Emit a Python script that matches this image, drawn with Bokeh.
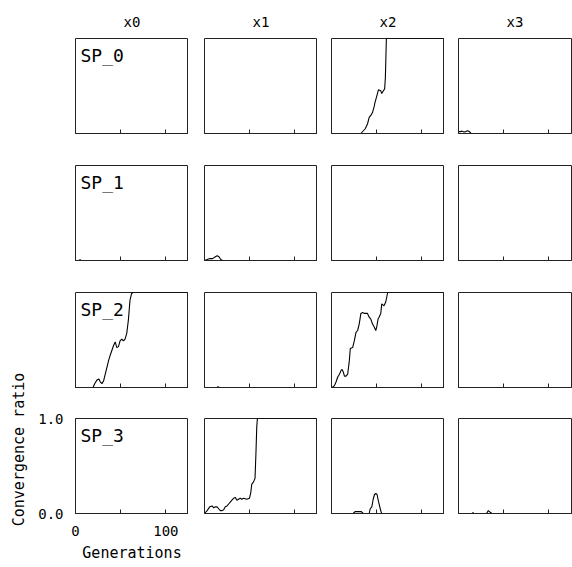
import math
from bokeh.plotting import figure
from bokeh.layouts import gridplot, row
from bokeh.models import Range1d, FixedTicker, Label
from bokeh.embed import file_html
from bokeh.resources import INLINE

# ---------------- data ----------------
col_titles = ["x0", "x1", "x2", "x3"]
row_labels = ["SP_0", "SP_1", "SP_2", "SP_3"]
x_label = "Generations"
y_label = "Convergence ratio"
x_ticks = [0, 50, 100]
x_major_ticks = [0, 100]
x_minor_ticks = [50]
y_ticks = [0, 1]
y_tick_labels = {0: "0.0", 1: "1.0"}
gen_max = 125

# SP_0
sp0_x0_gen = [0, 125]
sp0_x0_ratio = [0, 0]
sp0_x1_gen = [0, 125]
sp0_x1_ratio = [0, 0]
sp0_x2_gen = [0, 29, 32.5, 37.3, 39.8, 41.7, 43.5, 45.3, 47.1, 48.2, 49.7, 50.8,
              51.9, 54.5, 55.6, 57.4, 58.8, 59.6, 60.7, 125]
sp0_x2_ratio = [0, 0, 0.0, 0.05, 0.10, 0.17, 0.19, 0.22, 0.28, 0.33, 0.38, 0.42,
                0.46, 0.45, 0.42, 0.45, 0.47, 0.59, 1.0, 1.0]
sp0_x3_gen = [0, 2, 4, 6, 8, 10, 12, 14, 125]
sp0_x3_ratio = [0.02, 0.02, 0.025, 0.015, 0.02, 0.03, 0.02, 0, 0]

# SP_1
sp1_x0_gen = [0, 4, 5, 6, 125]
sp1_x0_ratio = [0, 0, 0.01, 0, 0]
sp1_x1_gen = [0, 3, 6, 9, 12, 14, 16, 18, 20, 125]
sp1_x1_ratio = [0, 0.01, 0.02, 0.02, 0.04, 0.05, 0.04, 0.01, 0, 0]
sp1_x2_gen = [0, 125]
sp1_x2_ratio = [0, 0]
sp1_x3_gen = [0, 125]
sp1_x3_ratio = [0, 0]

# SP_2
sp2_x0_gen = [0, 19.4, 21.2, 23.8, 25.9, 27.4, 29.2, 31.1, 32.9, 34.7, 36.5, 38.4,
              40.2, 42.0, 43.9, 45.7, 47.5, 49.3, 51.2, 53.0, 54.8, 56.7, 58.5,
              60.3, 62.1, 63.9, 125]
sp2_x0_ratio = [0, 0, 0.04, 0.08, 0.09, 0.06, 0.04, 0.07, 0.14, 0.21, 0.28, 0.34,
                0.39, 0.44, 0.48, 0.42, 0.43, 0.49, 0.51, 0.49, 0.51, 0.57, 0.71,
                0.92, 0.99, 1.0, 1.0]
sp2_x1_gen = [0, 14, 15, 16, 125]
sp2_x1_ratio = [0, 0, 0.01, 0, 0]
sp2_x2_gen = [0, 0.7, 3.3, 5.1, 6.9, 8.8, 10.6, 11.7, 13.2, 14.3, 16.1, 17.9, 19.7,
              20.8, 23.4, 25.2, 27.1, 28.9, 30.7, 32.5, 34.4, 36.2, 39.8, 41.7,
              43.5, 45.3, 47.1, 49.0, 50.1, 51.5, 52.6, 54.5, 55.6, 58.1, 60.0,
              61.1, 62.1, 125]
sp2_x2_ratio = [0, 0, 0.02, 0.06, 0.11, 0.14, 0.18, 0.19, 0.16, 0.12, 0.12, 0.14,
                0.28, 0.41, 0.42, 0.49, 0.58, 0.60, 0.67, 0.78, 0.79, 0.78, 0.78,
                0.74, 0.72, 0.67, 0.64, 0.60, 0.64, 0.72, 0.74, 0.78, 0.88, 0.86,
                0.90, 0.95, 1.0, 1.0]
sp2_x3_gen = [0, 125]
sp2_x3_ratio = [0, 0]

# SP_3
sp3_x0_gen = [0, 125]
sp3_x0_ratio = [0, 0]
sp3_x1_gen = [0, 2.9, 5.8, 8.4, 10.2, 12.1, 13.9, 15.7, 17.5, 19.4, 21.2, 23.0,
              24.9, 26.7, 28.5, 30.3, 32.2, 34.0, 35.8, 37.6, 39.5, 41.3, 43.1,
              46.8, 49.7, 51.2, 52.3, 54.1, 55.9, 57.0, 57.8, 58.5, 125]
sp3_x1_ratio = [0, 0.03, 0.07, 0.08, 0.06, 0.07, 0.07, 0.05, 0.03, 0.03, 0.04, 0.07,
                0.08, 0.10, 0.12, 0.14, 0.16, 0.17, 0.14, 0.15, 0.16, 0.15, 0.16,
                0.15, 0.16, 0.22, 0.31, 0.33, 0.37, 0.66, 0.91, 1.0, 1.0]
sp3_x2_gen = [0, 24, 26, 30, 33, 35, 41.7, 42.8, 44.6, 46.1, 47.6, 49.0, 50.4,
              51.9, 53.4, 54.8, 55.6, 125]
sp3_x2_ratio = [0, 0, 0.02, 0.02, 0.02, 0, 0, 0.05, 0.07, 0.15, 0.20, 0.21, 0.20,
                0.13, 0.07, 0.02, 0, 0]
sp3_x3_gen = [0, 15, 16, 17, 31, 33, 35.5, 37, 125]
sp3_x3_ratio = [0, 0, 0.01, 0, 0, 0.03, 0.01, 0, 0]

series = {
    (0, 0): (sp0_x0_gen, sp0_x0_ratio), (0, 1): (sp0_x1_gen, sp0_x1_ratio),
    (0, 2): (sp0_x2_gen, sp0_x2_ratio), (0, 3): (sp0_x3_gen, sp0_x3_ratio),
    (1, 0): (sp1_x0_gen, sp1_x0_ratio), (1, 1): (sp1_x1_gen, sp1_x1_ratio),
    (1, 2): (sp1_x2_gen, sp1_x2_ratio), (1, 3): (sp1_x3_gen, sp1_x3_ratio),
    (2, 0): (sp2_x0_gen, sp2_x0_ratio), (2, 1): (sp2_x1_gen, sp2_x1_ratio),
    (2, 2): (sp2_x2_gen, sp2_x2_ratio), (2, 3): (sp2_x3_gen, sp2_x3_ratio),
    (3, 0): (sp3_x0_gen, sp3_x0_ratio), (3, 1): (sp3_x1_gen, sp3_x1_ratio),
    (3, 2): (sp3_x2_gen, sp3_x2_ratio), (3, 3): (sp3_x3_gen, sp3_x3_ratio),
}

# ---------------- layout / style ----------------
FONT = "DejaVu Sans Mono"
FRAME_W, FRAME_H = 113, 95
LABEL_W = 34
left_borders = [41, 16, 14, 14]
right_borders = [0, 0, 0, 1]
top_borders = [38, 16, 16, 15]
bottom_borders = [16, 16, 16, 52]
TOTAL_H = sum(top_borders) + sum(bottom_borders) + 4 * FRAME_H
EDGE = "#222222"

rows = []
for r in range(4):
    prow = []
    for c in range(4):
        p = figure(
            frame_width=FRAME_W, frame_height=FRAME_H,
            x_range=Range1d(0, gen_max), y_range=Range1d(0, 1),
            output_backend="svg", toolbar_location=None,
            min_border_left=left_borders[c], min_border_right=right_borders[c],
            min_border_top=top_borders[r], min_border_bottom=bottom_borders[r],
            title=col_titles[c] if r == 0 else None,
        )
        p.background_fill_color = "white"
        p.border_fill_color = "white"
        p.outline_line_color = EDGE
        p.outline_line_width = 1
        p.xgrid.visible = False
        p.ygrid.visible = False

        if r == 0:
            p.title.align = "center"
            p.title.text_font = FONT
            p.title.text_font_size = "14px"
            p.title.text_font_style = "normal"
            p.title.text_color = "black"
            p.title.standoff = 18

        xa = p.xaxis[0]
        xa.axis_line_color = EDGE
        xa.major_tick_in = 4
        xa.major_tick_out = 0
        xa.minor_tick_in = 4
        xa.minor_tick_out = 0
        xa.major_tick_line_color = EDGE
        xa.minor_tick_line_color = EDGE

        ya = p.yaxis[0]
        if r == 3 and c == 0:
            xa.ticker = FixedTicker(ticks=x_major_ticks, minor_ticks=x_minor_ticks)
            xa.major_label_text_font = FONT
            xa.major_label_text_font_size = "14px"
            xa.major_label_text_color = "black"
            xa.major_label_standoff = 12
            xa.axis_label = x_label
            xa.axis_label_text_font = FONT
            xa.axis_label_text_font_size = "15px"
            xa.axis_label_text_font_style = "normal"
            xa.axis_label_text_color = "black"
            xa.axis_label_standoff = 5

            ya.ticker = FixedTicker(ticks=y_ticks)
            ya.major_label_overrides = y_tick_labels
            ya.major_tick_in = 0
            ya.major_tick_out = 0
            ya.minor_tick_line_color = None
            ya.axis_line_color = EDGE
            ya.major_label_text_font = FONT
            ya.major_label_text_font_size = "14px"
            ya.major_label_text_color = "black"
            ya.major_label_standoff = 12
        else:
            # tick marks only, no labels
            xa.ticker = FixedTicker(ticks=[], minor_ticks=x_ticks)
            xa.major_label_standoff = 0
            ya.visible = False

        if c == 0:
            p.add_layout(Label(x=5.5, y=0.93, text=row_labels[r],
                               text_baseline="top", text_align="left",
                               text_font=FONT, text_font_size="18px",
                               text_color="black"))

        gx, gy = series[(r, c)]
        p.line(gx, gy, line_color="black", line_width=1.1)
        prow.append(p)
    rows.append(prow)

grid = gridplot(rows, toolbar_location=None)

# narrow strip holding the shared y-axis title (extends beyond one panel)
lab = figure(width=LABEL_W, height=TOTAL_H, x_range=Range1d(0, LABEL_W),
             y_range=Range1d(0, TOTAL_H), output_backend="svg",
             toolbar_location=None, min_border=0)
lab.axis.visible = False
lab.grid.visible = False
lab.outline_line_color = None
lab.background_fill_color = "white"
lab.border_fill_color = "white"
lab.add_layout(Label(x=18, y=TOTAL_H - 449, text=y_label, angle=math.pi / 2,
                     text_align="center", text_baseline="middle",
                     text_font=FONT, text_font_size="15px", text_color="black"))

layout = row(lab, grid)
open("out.html", "w").write(file_html(layout, INLINE))
